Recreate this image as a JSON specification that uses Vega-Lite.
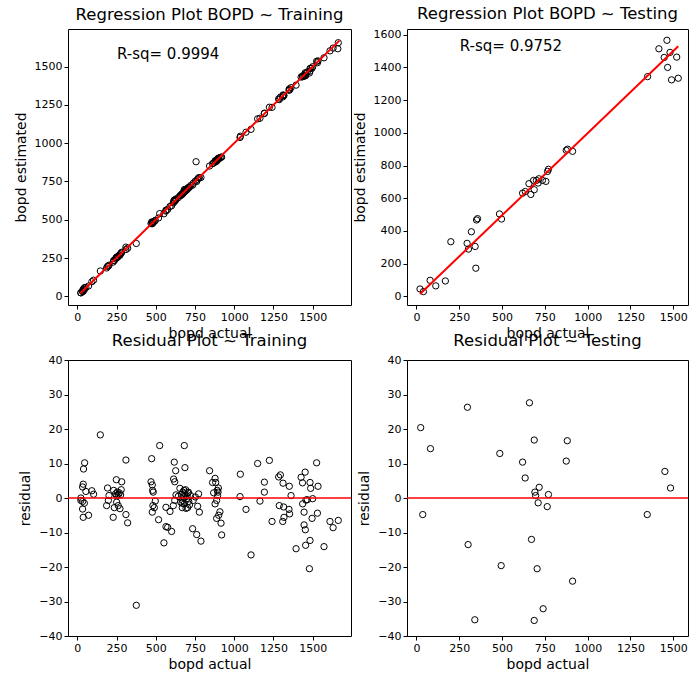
{
  "$schema": "https://vega.github.io/schema/vega-lite/v6.json",
  "padding": {"left": 13, "top": 5, "right": 0, "bottom": 0},
  "config": {
    "font": "DejaVu Sans",
    "view": {"stroke": "black", "strokeWidth": 1},
    "axis": {"grid": false, "domain": false, "tickColor": "black", "tickSize": 4, "labelFontSize": 11, "labelColor": "black", "labelPadding": 2, "titleFontSize": 14, "titleFontWeight": "normal", "titleColor": "black", "labelFont": "DejaVu Sans", "titleFont": "DejaVu Sans", "format": "d", "labelOverlap": false, "labelFlush": false, "tickCount": 30},
    "axisY": {"titlePadding": 6},
    "axisX": {"titlePadding": 4},
    "title": {"fontSize": 16.5, "fontWeight": "normal", "color": "black", "frame": "group", "anchor": "middle", "baseline": "alphabetic", "font": "DejaVu Sans"}
  },
  "datasets": {
    "train": [
      {"a":23,"r":0,"e":23},{"a":23,"r":-0.7,"e":22.3},{"a":34,"r":3.2,"e":37.2},{"a":38,"r":4,"e":42},{"a":40,"r":8.4,"e":48.4},{"a":47,"r":10.2,"e":57.2},{"a":34,"r":-1,"e":33},{"a":45,"r":-1.5,"e":43.5},{"a":34,"r":-3.2,"e":30.8},{"a":38,"r":-5.6,"e":32.4},{"a":55,"r":1.9,"e":56.9},{"a":72,"r":-5,"e":67},{"a":93,"r":2.1,"e":95.1},{"a":104,"r":1.1,"e":105.1},
      {"a":147,"r":18.3,"e":165.3},{"a":193,"r":2.9,"e":195.9},{"a":202,"r":0.7,"e":202.7},{"a":198,"r":-0.7,"e":197.3},{"a":187,"r":-2.2,"e":184.8},{"a":232,"r":2.2,"e":234.2},{"a":249,"r":5.3,"e":254.3},{"a":236,"r":-2.8,"e":233.2},{"a":229,"r":-5.6,"e":223.4},{"a":244,"r":1.2,"e":245.2},{"a":251,"r":0.7,"e":251.7},{"a":255,"r":1.7,"e":256.7},{"a":261,"r":0.9,"e":261.9},{"a":268,"r":1.5,"e":269.5},{"a":251,"r":-1.2,"e":249.8},{"a":261,"r":-2.2,"e":258.8},{"a":283,"r":4.7,"e":287.7},{"a":280,"r":2.4,"e":282.4},{"a":272,"r":-3.1,"e":268.9},{"a":276,"r":0.9,"e":276.9},{"a":310,"r":11,"e":321},{"a":310,"r":-4.8,"e":305.2},{"a":321,"r":-7.2,"e":313.8},{"a":376,"r":-31.1,"e":344.9},
      {"a":474,"r":11.4,"e":485.4},{"a":470,"r":4.7,"e":474.7},{"a":478,"r":3.8,"e":481.8},{"a":480,"r":2.2,"e":482.2},{"a":484,"r":1.7,"e":485.7},{"a":482,"r":-2.2,"e":479.8},{"a":478,"r":-4.1,"e":473.9},{"a":491,"r":-2.8,"e":488.2},{"a":497,"r":-0.9,"e":496.1},{"a":525,"r":15.2,"e":540.2},{"a":518,"r":-6.3,"e":511.7},{"a":552,"r":-13,"e":539},{"a":565,"r":-2.7,"e":562.3},{"a":565,"r":-8.3,"e":556.7},{"a":576,"r":-8.5,"e":567.5},{"a":591,"r":-3.9,"e":587.1},{"a":601,"r":-9.7,"e":591.3},
      {"a":618,"r":10.4,"e":628.4},{"a":627,"r":7.9,"e":634.9},{"a":614,"r":5.5,"e":619.5},{"a":621,"r":4.7,"e":625.7},{"a":682,"r":15.2,"e":697.2},{"a":686,"r":8.8,"e":694.8},{"a":612,"r":-2.2,"e":609.8},{"a":621,"r":-0.7,"e":620.3},{"a":629,"r":0.9,"e":629.9},{"a":644,"r":0.5,"e":644.5},{"a":654,"r":2.8,"e":656.8},{"a":659,"r":-1.2,"e":657.8},{"a":672,"r":1.7,"e":673.7},{"a":676,"r":0.3,"e":676.3},{"a":680,"r":2.2,"e":682.2},{"a":686,"r":1.2,"e":687.2},{"a":690,"r":2.4,"e":692.4},{"a":669,"r":-2.8,"e":666.2},{"a":682,"r":-1.7,"e":680.3},{"a":697,"r":-0.2,"e":696.8},{"a":703,"r":-2.8,"e":700.2},{"a":710,"r":-1,"e":709},{"a":722,"r":0.7,"e":722.7},{"a":735,"r":-8.9,"e":726.1},{"a":739,"r":-0.7,"e":738.3},{"a":752,"r":0.3,"e":752.3},{"a":761,"r":-10.6,"e":750.4},{"a":767,"r":-2.4,"e":764.6},{"a":773,"r":1.2,"e":774.2},{"a":778,"r":-4.1,"e":773.9},{"a":788,"r":-12.5,"e":775.5},{"a":708,"r":1.7,"e":709.7},{"a":672,"r":-0.7,"e":671.3},{"a":664,"r":1,"e":665},{"a":668,"r":-1.5,"e":666.5},{"a":700,"r":0.5,"e":700.5},{"a":715,"r":-2,"e":713},{"a":693,"r":-3,"e":690},{"a":705,"r":1.5,"e":706.5},
      {"a":843,"r":7.9,"e":850.9},{"a":862,"r":4.5,"e":866.5},{"a":878,"r":5.7,"e":883.7},{"a":882,"r":4.5,"e":886.5},{"a":869,"r":1.5,"e":870.5},{"a":878,"r":-1.7,"e":876.3},{"a":888,"r":-0.7,"e":887.3},{"a":892,"r":2.2,"e":894.2},{"a":899,"r":2.9,"e":901.9},{"a":897,"r":1.7,"e":898.7},{"a":888,"r":-5.9,"e":882.1},{"a":901,"r":-5,"e":896},{"a":909,"r":-4,"e":905},{"a":916,"r":-7.3,"e":908.7},{"a":920,"r":-10.7,"e":909.3},{"a":894,"r":0.7,"e":894.7},
      {"a":1039,"r":6.9,"e":1045.9},{"a":1037,"r":0.4,"e":1037.4},{"a":1075,"r":-3.3,"e":1071.7},{"a":1107,"r":-16.5,"e":1090.5},{"a":1149,"r":10,"e":1159},{"a":1164,"r":-0.9,"e":1163.1},{"a":1192,"r":4.6,"e":1196.6},{"a":1192,"r":1.7,"e":1193.7},{"a":1224,"r":10.9,"e":1234.9},{"a":1241,"r":-6.8,"e":1234.2},
      {"a":1283,"r":6.1,"e":1289.1},{"a":1294,"r":6.7,"e":1300.7},{"a":1287,"r":-2.2,"e":1284.8},{"a":1311,"r":4.3,"e":1315.3},{"a":1315,"r":-2.6,"e":1312.4},{"a":1309,"r":-6.8,"e":1302.2},{"a":1317,"r":-5.6,"e":1311.4},{"a":1351,"r":3.4,"e":1354.4},{"a":1362,"r":0.7,"e":1362.7},{"a":1349,"r":-3.3,"e":1345.7},{"a":1353,"r":-4.6,"e":1348.4},{"a":1394,"r":-14.7,"e":1379.3},
      {"a":1426,"r":6,"e":1432},{"a":1435,"r":4.4,"e":1439.4},{"a":1452,"r":7.5,"e":1459.5},{"a":1436,"r":-1.7,"e":1434.3},{"a":1445,"r":-4.1,"e":1440.9},{"a":1445,"r":-7.8,"e":1437.2},{"a":1453,"r":-9.2,"e":1443.8},{"a":1455,"r":-13.7,"e":1441.3},{"a":1483,"r":-12.3,"e":1470.7},{"a":1479,"r":-20.5,"e":1458.5},{"a":1466,"r":-0.5,"e":1465.5},{"a":1457,"r":-0.6,"e":1456.4},{"a":1483,"r":4.5,"e":1487.5},{"a":1487,"r":2.8,"e":1489.8},{"a":1500,"r":-0.2,"e":1499.8},{"a":1496,"r":-5.9,"e":1490.1},{"a":1525,"r":10.2,"e":1535.2},{"a":1534,"r":3.4,"e":1537.4},{"a":1530,"r":-4.4,"e":1525.6},{"a":1572,"r":-14.1,"e":1557.9},{"a":1610,"r":-6.8,"e":1603.2},{"a":1630,"r":-8.6,"e":1621.4},{"a":1663,"r":-6.5,"e":1656.5},
      {"a":757,"r":122,"e":879},{"a":1660,"r":-43,"e":1617}
    ],
    "testReg": [
      {"a":21,"e":45},{"a":41,"e":29},{"a":80,"e":98},{"a":113,"e":64},{"a":169,"e":94},{"a":201,"e":334},{"a":296,"e":324},{"a":304,"e":289},{"a":321,"e":395},{"a":343,"e":305},{"a":347,"e":172},{"a":351,"e":467},{"a":357,"e":475},{"a":485,"e":504},{"a":497,"e":473},{"a":620,"e":631},{"a":636,"e":641},{"a":657,"e":689},{"a":668,"e":623},{"a":684,"e":709},{"a":688,"e":652},{"a":701,"e":709},{"a":711,"e":693},{"a":715,"e":719},{"a":736,"e":709},{"a":756,"e":703},{"a":766,"e":764},{"a":771,"e":777},{"a":875,"e":893},{"a":883,"e":900},{"a":912,"e":887},{"a":1350,"e":1344},{"a":1416,"e":1514},{"a":1463,"e":1566},{"a":1447,"e":1461},{"a":1481,"e":1492},{"a":1467,"e":1400},{"a":1490,"e":1324},{"a":1520,"e":1463},{"a":1529,"e":1334}
    ],
    "testRes": [
      {"a":25,"r":20.4},{"a":37,"r":-4.8},{"a":82,"r":14.3},{"a":298,"r":26.3},{"a":302,"r":-13.5},{"a":341,"r":-35.3},{"a":487,"r":12.9},{"a":495,"r":-19.6},{"a":620,"r":10.4},{"a":635,"r":5.8},{"a":660,"r":27.6},{"a":672,"r":-12},{"a":688,"r":16.8},{"a":692,"r":1.7},{"a":696,"r":0.7},{"a":711,"r":-1.4},{"a":717,"r":3.1},{"a":705,"r":-20.5},{"a":688,"r":-35.5},{"a":740,"r":-32.1},{"a":764,"r":-2.5},{"a":771,"r":1},{"a":875,"r":10.7},{"a":881,"r":16.6},{"a":912,"r":-24.1},{"a":1348,"r":-4.8},{"a":1451,"r":7.7},{"a":1484,"r":2.9}
    ],
    "lineTrain": [{"a":20,"e":20},{"a":1670,"e":1670}],
    "lineTest": [{"a":21,"e":14},{"a":1529,"e":1530}],
    "rsqTrain": [{"a":253,"e":1550,"label":"R-sq= 0.9994"}],
    "rsqTest": [{"a":253,"e":1503,"label":"R-sq= 0.9752"}],
    "zero": [{"r":0}]
  },
  "columns": 2,
  "bounds": "flush",
  "spacing": {"row": 55, "column": 56},
  "concat": [
    {
      "width": 283, "height": 276,
      "title": {"text": "Regression Plot BOPD ~ Training", "offset": 6},
      "layer": [
        {
          "data": {"name": "train"},
          "mark": {"type": "point", "shape": "circle", "filled": false, "color": "black", "size": 40, "strokeWidth": 1, "opacity": 1, "clip": true},
          "encoding": {
            "x": {"field": "a", "type": "quantitative", "scale": {"domain": [-59, 1744], "nice": false, "zero": false}, "axis": {"title": "bopd actual", "values": [0, 250, 500, 750, 1000, 1250, 1500]}},
            "y": {"field": "e", "type": "quantitative", "scale": {"domain": [-57, 1746], "nice": false, "zero": false}, "axis": {"title": "bopd estimated", "values": [0, 250, 500, 750, 1000, 1250, 1500]}}
          }
        },
        {
          "data": {"name": "lineTrain"},
          "mark": {"type": "line", "color": "red", "strokeWidth": 2},
          "encoding": {"x": {"field": "a", "type": "quantitative"}, "y": {"field": "e", "type": "quantitative"}}
        },
        {
          "data": {"name": "rsqTrain"},
          "mark": {"type": "text", "align": "left", "baseline": "alphabetic", "fontSize": 15, "color": "black"},
          "encoding": {"x": {"field": "a", "type": "quantitative"}, "y": {"field": "e", "type": "quantitative"}, "text": {"field": "label"}}
        }
      ]
    },
    {
      "width": 281, "height": 276,
      "title": {"text": "Regression Plot BOPD ~ Testing", "offset": 6},
      "layer": [
        {
          "data": {"name": "testReg"},
          "mark": {"type": "point", "shape": "circle", "filled": false, "color": "black", "size": 40, "strokeWidth": 1, "opacity": 1, "clip": true},
          "encoding": {
            "x": {"field": "a", "type": "quantitative", "scale": {"domain": [-55, 1586], "nice": false, "zero": false}, "axis": {"title": "bopd actual", "values": [0, 250, 500, 750, 1000, 1250, 1500]}},
            "y": {"field": "e", "type": "quantitative", "scale": {"domain": [-53, 1635], "nice": false, "zero": false}, "axis": {"title": "bopd estimated", "values": [0, 200, 400, 600, 800, 1000, 1200, 1400, 1600]}}
          }
        },
        {
          "data": {"name": "lineTest"},
          "mark": {"type": "line", "color": "red", "strokeWidth": 2},
          "encoding": {"x": {"field": "a", "type": "quantitative"}, "y": {"field": "e", "type": "quantitative"}}
        },
        {
          "data": {"name": "rsqTest"},
          "mark": {"type": "text", "align": "left", "baseline": "alphabetic", "fontSize": 15, "color": "black"},
          "encoding": {"x": {"field": "a", "type": "quantitative"}, "y": {"field": "e", "type": "quantitative"}, "text": {"field": "label"}}
        }
      ]
    },
    {
      "width": 283, "height": 276,
      "title": {"text": "Residual Plot ~ Training", "offset": 5},
      "layer": [
        {
          "data": {"name": "train"},
          "mark": {"type": "point", "shape": "circle", "filled": false, "color": "black", "size": 40, "strokeWidth": 1, "opacity": 1, "clip": true},
          "encoding": {
            "x": {"field": "a", "type": "quantitative", "scale": {"domain": [-59, 1744], "nice": false, "zero": false}, "axis": {"title": "bopd actual", "values": [0, 250, 500, 750, 1000, 1250, 1500]}},
            "y": {"field": "r", "type": "quantitative", "scale": {"domain": [-40, 40], "nice": false, "zero": false}, "axis": {"title": "residual", "values": [-40, -30, -20, -10, 0, 10, 20, 30, 40]}}
          }
        },
        {
          "data": {"name": "zero"},
          "mark": {"type": "rule", "color": "red", "strokeWidth": 1.5},
          "encoding": {"y": {"field": "r", "type": "quantitative"}}
        }
      ]
    },
    {
      "width": 281, "height": 276,
      "title": {"text": "Residual Plot ~ Testing", "offset": 5},
      "layer": [
        {
          "data": {"name": "testRes"},
          "mark": {"type": "point", "shape": "circle", "filled": false, "color": "black", "size": 40, "strokeWidth": 1, "opacity": 1, "clip": true},
          "encoding": {
            "x": {"field": "a", "type": "quantitative", "scale": {"domain": [-55, 1586], "nice": false, "zero": false}, "axis": {"title": "bopd actual", "values": [0, 250, 500, 750, 1000, 1250, 1500]}},
            "y": {"field": "r", "type": "quantitative", "scale": {"domain": [-40, 40], "nice": false, "zero": false}, "axis": {"title": "residual", "values": [-40, -30, -20, -10, 0, 10, 20, 30, 40]}}
          }
        },
        {
          "data": {"name": "zero"},
          "mark": {"type": "rule", "color": "red", "strokeWidth": 1.5},
          "encoding": {"y": {"field": "r", "type": "quantitative"}}
        }
      ]
    }
  ]
}
